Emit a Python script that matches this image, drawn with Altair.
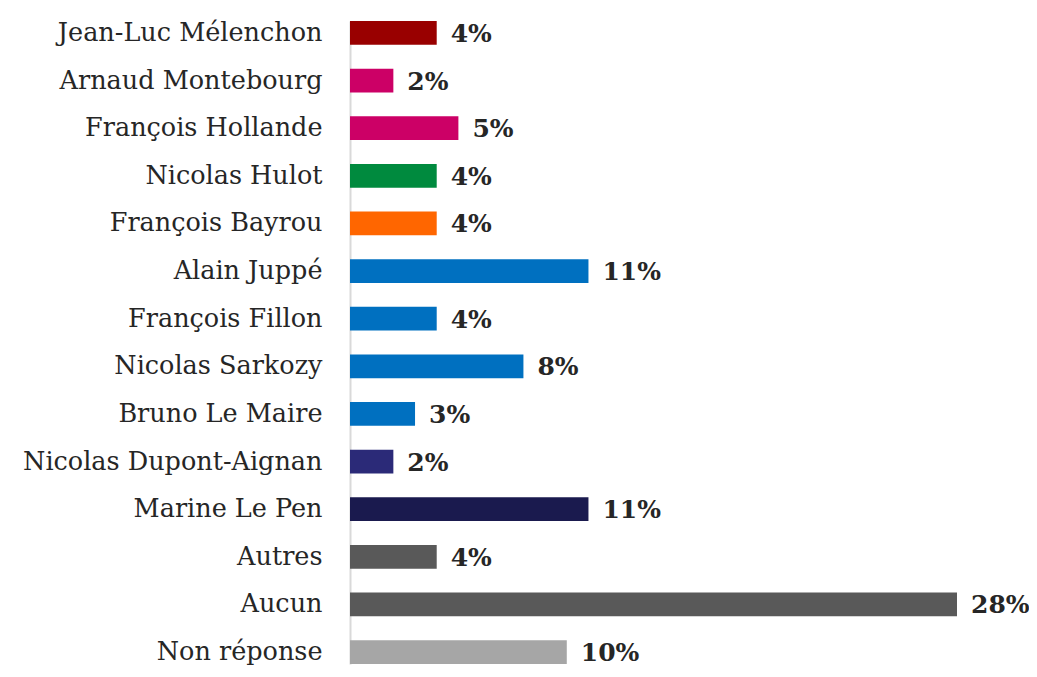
import altair as alt
import pandas as pd

candidates = ["Jean-Luc Mélenchon", "Arnaud Montebourg", "François Hollande", "Nicolas Hulot",
              "François Bayrou", "Alain Juppé", "François Fillon", "Nicolas Sarkozy",
              "Bruno Le Maire", "Nicolas Dupont-Aignan", "Marine Le Pen", "Autres",
              "Aucun", "Non réponse"]
values = [4, 2, 5, 4, 4, 11, 4, 8, 3, 2, 11, 4, 28, 10]
colors = ["#990000", "#cc0066", "#cc0066", "#008a3e", "#ff6600", "#0070c0", "#0070c0",
          "#0070c0", "#0070c0", "#2b2a78", "#1a1a4e", "#595959", "#595959", "#a6a6a6"]

df = pd.DataFrame({"candidat": candidates, "valeur": values, "couleur": colors})
df["label"] = df["valeur"].astype(str) + "%"

FONT = "DejaVu Serif"

yscale = alt.Scale(paddingInner=0.5, paddingOuter=0, range=[13, 656])
y = alt.Y("candidat:N", sort=candidates, scale=yscale,
          axis=alt.Axis(title=None, ticks=False, labelFont=FONT, labelFontSize=25.5,
                        labelColor="#262626", labelPadding=28, domainColor="#d9d9d9",
                        domainWidth=2, labelLimit=400))
x = alt.X("valeur:Q", scale=alt.Scale(domain=[0, 28], nice=False), axis=None)

bars = alt.Chart(df).mark_bar().encode(
    x=x, y=y, color=alt.Color("couleur:N", scale=None))

text = alt.Chart(df).mark_text(align="left", baseline="middle", dx=14, dy=1,
                               font=FONT, fontSize=25, fontWeight="bold",
                               color="#262626").encode(
    x=x, y=alt.Y("candidat:N", sort=candidates), text="label:N")

chart = (bars + text).properties(
    width=607, height=661,
    padding={"left": 342, "top": 0, "right": 72, "bottom": 0},
    autosize=alt.AutoSizeParams(type="none"),
).configure_view(stroke=None)

chart.save("out.html", embed_options={"renderer": "svg", "actions": False})
